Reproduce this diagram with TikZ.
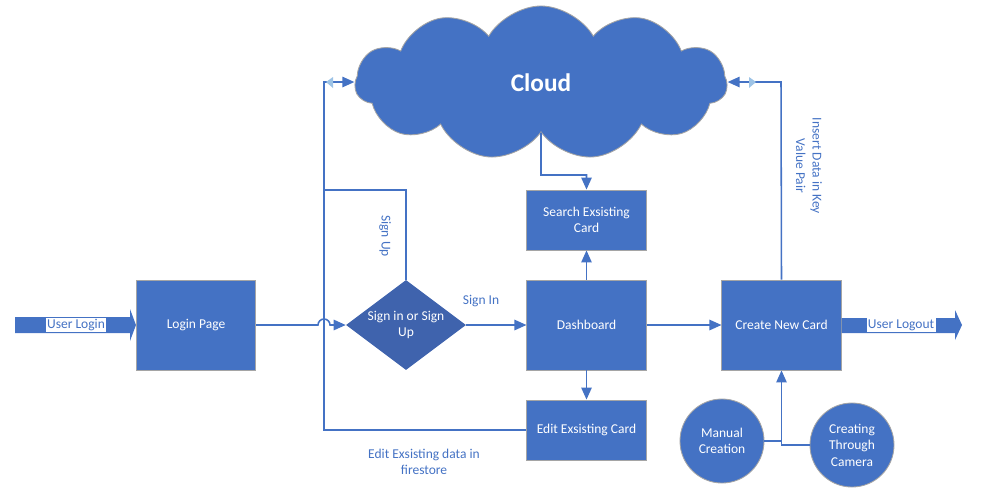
\documentclass[tikz,border=0pt]{standalone}
\usepackage{fontspec}
\setmainfont{Carlito}
\usepackage{tikz}
\usetikzlibrary{positioning, arrows.meta, shapes.geometric, shapes.symbols}
\definecolor{boxblue}{HTML}{4472C4}
\definecolor{diablue}{HTML}{3F63AD}
\definecolor{hintblue}{HTML}{9DC3E6}
\definecolor{edgegray}{HTML}{A5A5A5}

\begin{document}
\begin{tikzpicture}[
        x=0.025cm, y=-0.025cm,
        font=\fontsize{9.6}{11.8}\selectfont,
        box/.style      = {draw=edgegray, line width=0.6pt, fill=boxblue, text=white, minimum width=2.98cm, minimum height=2.25cm, align=center, inner sep=1pt},
        smallbox/.style = {box, minimum height=1.5cm},
        decision/.style = {diamond, fill=diablue, text=white, minimum width=3cm, minimum height=2.25cm, aspect=1.33, align=center, inner sep=-3pt},
        roundbox/.style = {circle, draw=edgegray, line width=0.6pt, fill=boxblue, text=white, minimum size=2.1cm, align=center, inner sep=0pt},
        conn/.style     = {draw=boxblue, line width=1.1pt},
        arrow/.style    = {conn, -{Triangle[length=3mm, width=2.6mm]}},
        lbl/.style      = {text=boxblue, align=center},
        tag/.style      = {text=boxblue, fill=white, inner sep=1pt},
    ]
        \useasboundingbox (0,0) rectangle (986,502);

        \node[cloud, cloud puffs=11, cloud puff arc=120, aspect=2.4, fill=boxblue, draw=edgegray, line width=0.6pt, minimum width=9.3cm, minimum height=3.85cm, inner sep=0pt, text=white, font=\fontsize{18}{20}\selectfont\bfseries] (cloud) at (541,83) {Cloud};

        \node[box] (login) at (196,325) {Login Page};
        \node[decision] (check) at (406,325) {Sign in or Sign\\Up};
        \node[box] (dash) at (586.5,325) {Dashboard};
        \node[smallbox] (search) at (586.5,220) {Search Exsisting\\Card};
        \node[smallbox] (edit) at (586.5,430) {Edit Exsisting Card};
        \node[box] (create) at (781.5,325) {Create New Card};
        \node[roundbox] (manual) at (722,441) {Manual\\Creation};
        \node[roundbox] (camera) at (852,445) {Creating\\Through\\Camera};

        % block arrows in and out
        \fill[boxblue] (15,317) -- (130,317) -- (130,309) -- (login.west) -- (130,341) -- (130,333) -- (15,333) -- cycle;
        \node[tag] (inlbl) at (76,325) {User Login};
        \coordinate (exit) at (962,325);
        \fill[boxblue] (create.east |- 0,318) -- (955,318) -- (955,310) -- (exit) -- (955,340) -- (955,333) -- (create.east |- 0,333) -- cycle;
        \node[tag] (outlbl) at (901,325) {User Logout};

        % connectors
        \draw[arrow] (login.east) -- (318,325) arc[start angle=180, end angle=0, radius=0.15cm] -- (check.west);
        \draw[arrow] (check.north) -- (406,190) -- (324,190) -- (324,82) -- (cloud.west |- 0,82);
        \draw[conn] (edit.west) -- (324,430) -- (324,190);
        \draw[arrow] (check.east) -- (dash.west);
        \draw[arrow] (dash.north) -- (search.south);
        \draw[arrow] (dash.south) -- (edit.north);
        \draw[arrow] (cloud.south) -- (541,175) -- (586.5,175) -- (search.north);
        \draw[arrow] (dash.east) -- (create.west);
        \draw[arrow] (create.north) -- (781,82) -- (cloud.east |- 0,82);
        \draw[arrow] (camera.west) -| (create.south);
        \draw[conn] (manual.east) -- (manual.east -| create.south);
        \fill[hintblue] (333,77) -- (326,82) -- (333,88) -- cycle;
        \fill[hintblue] (749,77) -- (756,82) -- (749,88) -- cycle;

        % labels
        \node[lbl, rotate=-90] (uplbl) at (385,236) {Sign Up};
        \node[lbl] (inlbl2) at (481,301) {Sign In};
        \node[lbl] (firelbl) at (424,462) {Edit Exsisting data in\\firestore};
        \node[lbl, rotate=-90] (keylbl) at (809,166) {Insert Data in Key\\Value Pair};
    \end{tikzpicture}
\end{document}
